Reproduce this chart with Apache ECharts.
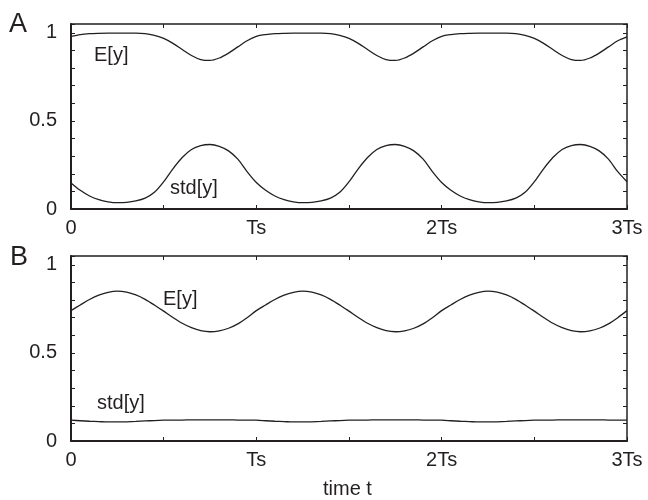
<!DOCTYPE html>
<html>
<head>
<meta charset="utf-8">
<script src="https://cdn.jsdelivr.net/npm/echarts@6/dist/echarts.min.js"></script>
<style>
  html, body { margin: 0; padding: 0; background: #fff; }
  #chart { width: 648px; height: 500px; }
</style>
</head>
<body>
<div id="chart"></div>
<script>
// sample times, in units of Ts
const timeT = [0, 0.05, 0.1, 0.15, 0.2, 0.25, 0.3, 0.35, 0.4, 0.45, 0.5, 0.55, 0.6, 0.65, 0.7, 0.75, 0.8, 0.85, 0.9, 0.95,
  1, 1.05, 1.1, 1.15, 1.2, 1.25, 1.3, 1.35, 1.4, 1.45, 1.5, 1.55, 1.6, 1.65, 1.7, 1.75, 1.8, 1.85, 1.9, 1.95,
  2, 2.05, 2.1, 2.15, 2.2, 2.25, 2.3, 2.35, 2.4, 2.45, 2.5, 2.55, 2.6, 2.65, 2.7, 2.75, 2.8, 2.85, 2.9, 2.95, 3]

// panel A
const meanA = [0.98, 0.99, 0.995, 0.997, 0.998, 0.998, 0.998, 0.998, 0.995, 0.985, 0.968, 0.94, 0.905, 0.871, 0.848, 0.843, 0.857, 0.885, 0.92, 0.955,
  0.98, 0.99, 0.995, 0.997, 0.998, 0.998, 0.998, 0.998, 0.995, 0.985, 0.968, 0.94, 0.905, 0.871, 0.848, 0.843, 0.857, 0.885, 0.92, 0.955,
  0.98, 0.99, 0.995, 0.997, 0.998, 0.998, 0.998, 0.998, 0.995, 0.985, 0.968, 0.94, 0.905, 0.871, 0.848, 0.843, 0.857, 0.885, 0.92, 0.955, 0.977]
const stdA = [0.148, 0.106, 0.074, 0.053, 0.041, 0.036, 0.038, 0.046, 0.062, 0.095, 0.155, 0.228, 0.292, 0.338, 0.36, 0.366, 0.356, 0.33, 0.283, 0.212,
  0.15, 0.106, 0.074, 0.053, 0.041, 0.036, 0.038, 0.046, 0.062, 0.095, 0.155, 0.228, 0.292, 0.338, 0.36, 0.366, 0.356, 0.33, 0.283, 0.212,
  0.15, 0.106, 0.074, 0.053, 0.041, 0.036, 0.038, 0.046, 0.062, 0.095, 0.155, 0.228, 0.292, 0.338, 0.36, 0.366, 0.356, 0.33, 0.283, 0.212, 0.155]

// panel B
const meanB = [0.74, 0.772, 0.803, 0.828, 0.844, 0.851, 0.845, 0.829, 0.804, 0.772, 0.737, 0.701, 0.668, 0.643, 0.626, 0.62, 0.625, 0.64, 0.665, 0.7,
  0.74, 0.772, 0.803, 0.828, 0.844, 0.851, 0.845, 0.829, 0.804, 0.772, 0.737, 0.701, 0.668, 0.643, 0.626, 0.62, 0.625, 0.64, 0.665, 0.7,
  0.74, 0.772, 0.803, 0.828, 0.844, 0.851, 0.845, 0.829, 0.804, 0.772, 0.737, 0.701, 0.668, 0.643, 0.626, 0.62, 0.625, 0.64, 0.665, 0.7, 0.74]
const stdB = [0.118, 0.115, 0.112, 0.11, 0.108, 0.108, 0.109, 0.111, 0.114, 0.116, 0.118, 0.119, 0.119, 0.12, 0.12, 0.12, 0.12, 0.12, 0.119, 0.119,
  0.118, 0.115, 0.112, 0.11, 0.108, 0.108, 0.109, 0.111, 0.114, 0.116, 0.118, 0.119, 0.119, 0.12, 0.12, 0.12, 0.12, 0.12, 0.119, 0.119,
  0.118, 0.115, 0.112, 0.11, 0.108, 0.108, 0.109, 0.111, 0.114, 0.116, 0.118, 0.119, 0.119, 0.12, 0.12, 0.12, 0.12, 0.12, 0.119, 0.119, 0.118]

const xTickLabels = { 0: '0', 1: 'Ts', 2: '2Ts', 3: '3Ts' }
const yTickLabels = { 0: '0', 0.5: '0.5', 1: '1' }

const ink = '#231f20'
const font = 'Liberation Sans, Arial, sans-serif'

function pairs(xs, ys) {
  return xs.map((x, i) => [x, ys[i]])
}

function mainX(grid) {
  return {
    type: 'value', gridIndex: grid, min: 0, max: 3, interval: 0.5, position: 'bottom',
    axisLine: { show: true, onZero: false, lineStyle: { color: ink, width: 2 } },
    axisTick: { show: true, inside: true, length: 4, lineStyle: { color: ink, width: 1 } },
    axisLabel: {
      color: ink, fontSize: 20, fontFamily: font, margin: 9,
      formatter: v => xTickLabels[v] !== undefined ? xTickLabels[v] : ''
    },
    splitLine: { show: false }
  }
}
function mirrorX(grid) {
  return {
    type: 'value', gridIndex: grid, min: 0, max: 3, interval: 0.5, position: 'top',
    axisLine: { show: true, onZero: false, lineStyle: { color: ink, width: 1.5 } },
    axisTick: { show: true, inside: true, length: 4, lineStyle: { color: ink, width: 1 } },
    axisLabel: { show: false },
    splitLine: { show: false }
  }
}
function mainY(grid) {
  return {
    type: 'value', gridIndex: grid, min: 0, max: 1.05, interval: 0.1, position: 'left',
    axisLine: { show: true, onZero: false, lineStyle: { color: ink, width: 2 } },
    axisTick: { show: true, inside: true, length: 4, lineStyle: { color: ink, width: 1 } },
    axisLabel: {
      color: ink, fontSize: 20, fontFamily: font, margin: 14,
      formatter: v => {
        const k = Math.round(v * 100) / 100
        return yTickLabels[k] !== undefined ? yTickLabels[k] : ''
      }
    },
    splitLine: { show: false }
  }
}
function mirrorY(grid) {
  return {
    type: 'value', gridIndex: grid, min: 0, max: 1.05, interval: 0.1, position: 'right',
    axisLine: { show: true, onZero: false, lineStyle: { color: ink, width: 1.5 } },
    axisTick: { show: true, inside: true, length: 4, lineStyle: { color: ink, width: 1 } },
    axisLabel: { show: false },
    splitLine: { show: false }
  }
}
function curve(name, xIdx, yIdx, ys) {
  return {
    name: name, type: 'line', xAxisIndex: xIdx, yAxisIndex: yIdx,
    data: pairs(timeT, ys), smooth: 0.3, showSymbol: false, symbol: 'none',
    lineStyle: { color: ink, width: 1.3 }, silent: true, animation: false
  }
}
function txt(x, y, s, size) {
  return {
    type: 'text', left: x, top: y,
    style: { text: s, fill: ink, fontSize: size, fontFamily: font }
  }
}

const chart = echarts.init(document.getElementById('chart'))
chart.setOption({
  backgroundColor: '#fff',
  animation: false,
  grid: [
    { left: 71, top: 24, width: 556, height: 185 },
    { left: 71, top: 256, width: 556, height: 185 }
  ],
  xAxis: [mainX(0), mirrorX(0), mainX(1), mirrorX(1)],
  yAxis: [mainY(0), mirrorY(0), mainY(1), mirrorY(1)],
  series: [
    curve('E[y] A', 0, 0, meanA),
    curve('std[y] A', 0, 0, stdA),
    curve('E[y] B', 2, 2, meanB),
    curve('std[y] B', 2, 2, stdB)
  ],
  graphic: [
    txt(9, 11, 'A', 27),
    txt(10, 244, 'B', 27),
    txt(94, 45, 'E[y]', 20),
    txt(170, 178, 'std[y]', 20),
    txt(163, 289, 'E[y]', 20),
    txt(97, 393, 'std[y]', 20),
    txt(323, 479, 'time t', 20)
  ]
})
</script>
</body>
</html>
